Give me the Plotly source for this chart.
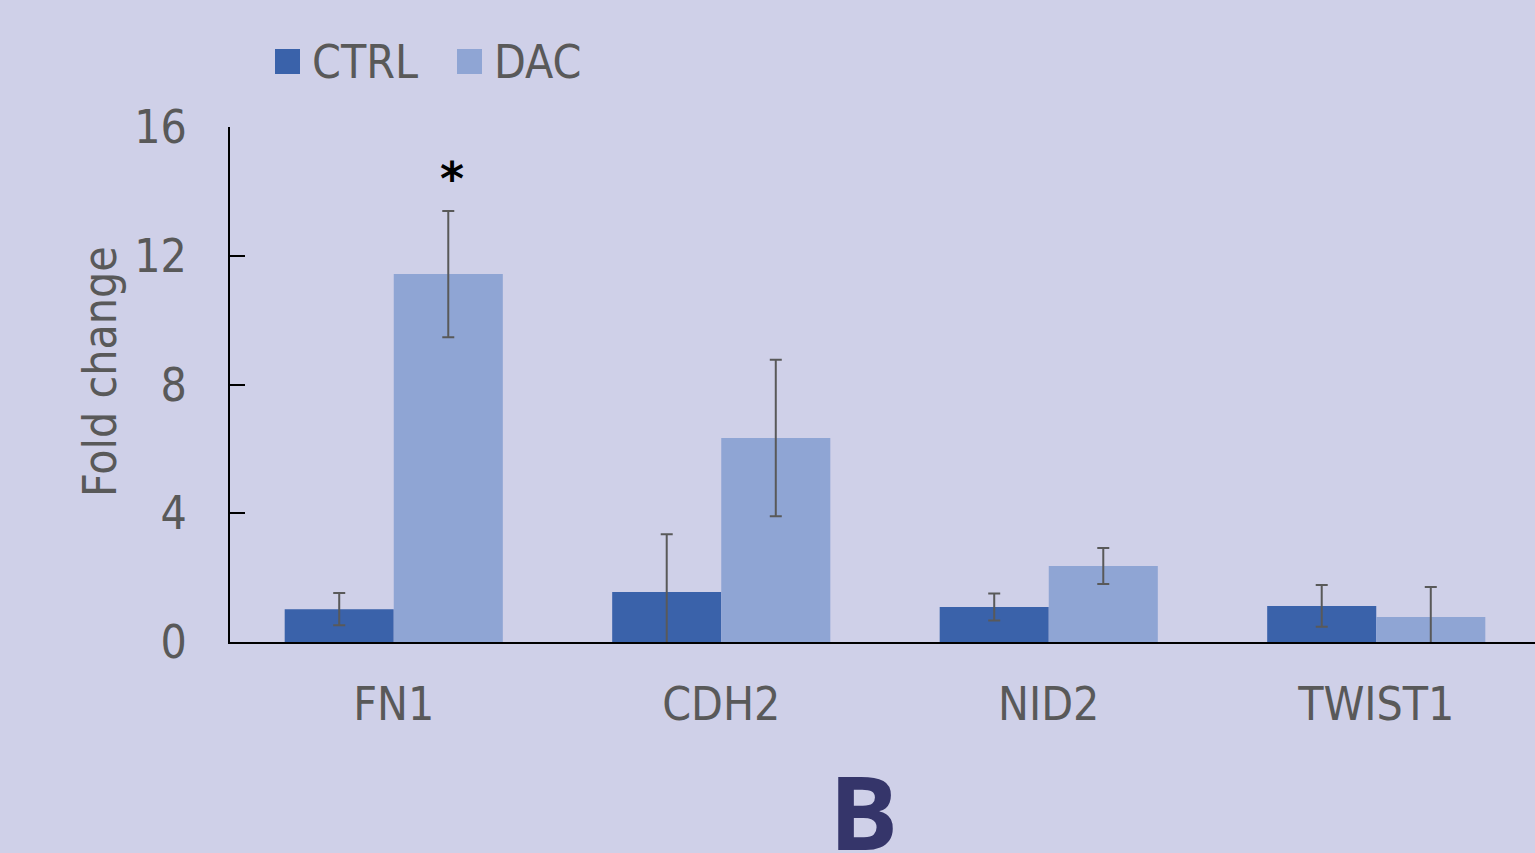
import plotly.graph_objects as go

genes = ["FN1", "CDH2", "NID2", "TWIST1"]
series_names = ["CTRL", "DAC"]
ctrl_vals = [1.02, 1.55, 1.09, 1.12]
ctrl_err = [0.50, 1.80, 0.42, 0.65]
dac_vals = [11.43, 6.34, 2.36, 0.78]
dac_err = [1.96, 2.43, 0.56, 0.93]
sig_gene = "FN1"
sig_y = 14.6
y_ticks = [0, 4, 8, 12, 16]
panel_label = "B"

colors = ["#3a62aa", "#8fa5d4"]
bg = "#cfd0e8"
txt = "#595959"
FONT = "DejaVu Sans Condensed, Open Sans, sans-serif"

W, H = 1540, 853
L, T, B_ = 230, 127, 211
PW = W - L
PH = H - T - B_
ZERO = T + PH


def px_x(p):
    return (p - L) / PW


def px_y(p):
    return (ZERO - p) / PH


fig = go.Figure()
for name, vals, errs, col in zip(series_names, [ctrl_vals, dac_vals], [ctrl_err, dac_err], colors):
    fig.add_trace(go.Bar(
        x=genes, y=vals, name=name, marker=dict(color=col, line=dict(width=0)),
        error_y=dict(type="data", array=errs, visible=True, color=txt, thickness=2, width=6),
        showlegend=False,
    ))

annotations = []
shapes = []
# legend
leg_x = [275, 457]
for i, (name, col) in enumerate(zip(series_names, colors)):
    p = leg_x[i]
    shapes.append(dict(type="rect", xref="paper", yref="paper",
                       x0=px_x(p), x1=px_x(p + 25),
                       y0=px_y(74), y1=px_y(49),
                       fillcolor=col, line=dict(width=0)))
    annotations.append(dict(text=name, xref="paper", yref="paper",
                            x=px_x(p + 35), y=px_y(62),
                            xanchor="left", yanchor="middle", showarrow=False,
                            font=dict(size=46, color=txt, family=FONT)))

# significance marker
annotations.append(dict(text="<b>*</b>", x=sig_gene, y=sig_y, xref="x", yref="y", xshift=58, yshift=-7,
                        showarrow=False, font=dict(size=46, color="black", family="DejaVu Sans, sans-serif"),
                        yanchor="middle"))
# y title
annotations.append(dict(text="Fold change", xref="paper", yref="paper",
                        x=px_x(100), y=px_y(372), textangle=-90,
                        showarrow=False, xanchor="center", yanchor="middle",
                        font=dict(size=46, color=txt, family=FONT)))
# panel label
annotations.append(dict(text="<b>" + panel_label + "</b>", xref="paper", yref="paper",
                        x=px_x(863), y=px_y(810),
                        showarrow=False, xanchor="center", yanchor="middle",
                        font=dict(size=103, color="#35356a", family="Open Sans, DejaVu Sans, sans-serif")))

fig.update_layout(
    width=W, height=H,
    paper_bgcolor=bg, plot_bgcolor=bg,
    margin=dict(l=L, r=0, t=T, b=B_),
    barmode="group", bargap=0.334, bargroupgap=0,
    font=dict(family=FONT, color=txt, size=46),
    annotations=annotations, shapes=shapes,
    xaxis=dict(showline=True, linecolor="black", linewidth=2, ticks="",
               tickfont=dict(size=46, color=txt), ticklabelstandoff=21,
               showgrid=False, zeroline=False),
    yaxis=dict(range=[0, 16], tickvals=y_ticks, showline=True, linecolor="black", linewidth=2,
               ticks="inside", ticklen=15, tickcolor="black", tickwidth=2,
               tickfont=dict(size=46, color=txt), ticklabelstandoff=32,
               showgrid=False, zeroline=False),
    showlegend=False,
)

fig.write_html("out.html", config={"displayModeBar": False},
               post_script="document.body.style.margin='0';document.body.style.overflow='hidden';")
